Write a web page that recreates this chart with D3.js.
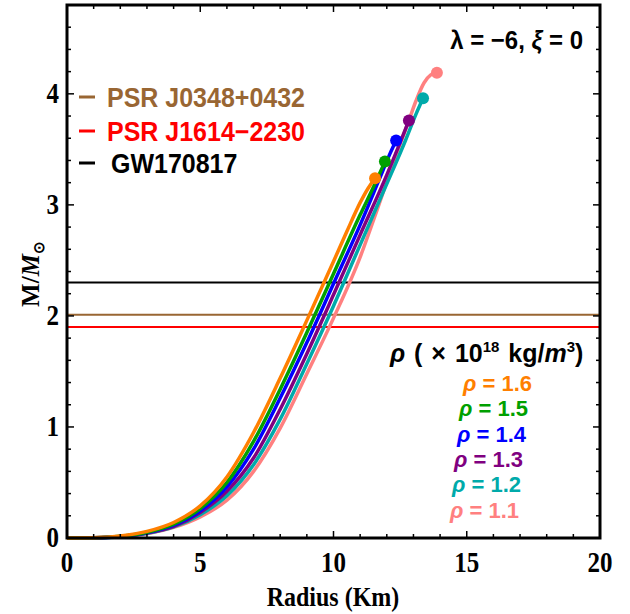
<!DOCTYPE html>
<html>
<head>
<meta charset="utf-8">
<script src="https://cdn.jsdelivr.net/npm/d3@7/dist/d3.min.js"></script>
<style>
  body { margin: 0; background: #fff; }
  text { font-weight: bold; }
</style>
</head>
<body>
<svg id="chart" width="630" height="614"></svg>
<script>
// axis ticks
const xTicks = [0, 5, 10, 15, 20];
const yTicks = [0, 1, 2, 3, 4];

// mass-radius curves, one per central density (x 10^18 kg/m^3)
const densities = [1.6, 1.5, 1.4, 1.3, 1.2, 1.1];
const curveColors = ['#ff7f00', '#00a000', '#0000ff', '#800080', '#00aaaa', '#ff8080'];

const radius16 = [0, 1, 2, 3, 4, 5, 6, 7, 8, 9, 10, 10.5, 11, 11.3, 11.56];
const mass16   = [0, 0.002, 0.018, 0.06, 0.14, 0.29, 0.55, 0.95, 1.44, 1.96, 2.49, 2.76, 3.02, 3.15, 3.24];

const radius15 = [0, 1, 2, 3, 4, 5, 6, 7, 8, 9, 10, 11, 11.5, 11.93];
const mass15   = [0, 0.002, 0.015, 0.052, 0.125, 0.265, 0.5, 0.87, 1.34, 1.85, 2.38, 2.91, 3.16, 3.39];

const radius14 = [0, 1, 2, 3, 4, 5, 6, 7, 8, 9, 10, 11, 11.7, 12.1, 12.35];
const mass14   = [0, 0.002, 0.014, 0.048, 0.115, 0.245, 0.46, 0.8, 1.26, 1.76, 2.29, 2.82, 3.22, 3.45, 3.58];

const radius13 = [0, 1, 2, 3, 4, 5, 6, 7, 8, 9, 10, 11, 12, 12.5, 12.83];
const mass13   = [0, 0.002, 0.013, 0.045, 0.105, 0.23, 0.42, 0.72, 1.16, 1.66, 2.19, 2.73, 3.27, 3.56, 3.76];

const radius12 = [0, 1, 2, 3, 4, 5, 6, 7, 8, 9, 10, 11, 12, 12.7, 13.1, 13.36];
const mass12   = [0, 0.002, 0.012, 0.042, 0.1, 0.21, 0.38, 0.66, 1.07, 1.57, 2.09, 2.64, 3.19, 3.58, 3.82, 3.96];

const radius11 = [0, 1, 2, 3, 4, 5, 6, 7, 8, 9, 10, 11, 11.6, 12.2, 12.8, 13.1, 13.4, 13.65, 13.88];
const mass11   = [0, 0.002, 0.011, 0.038, 0.095, 0.19, 0.34, 0.6, 0.99, 1.48, 1.98, 2.53, 2.93, 3.35, 3.74, 3.94, 4.1, 4.17, 4.19];

const radiusSets = [radius16, radius15, radius14, radius13, radius12, radius11];
const massSets = [mass16, mass15, mass14, mass13, mass12, mass11];

// observational mass constraints
const observations = ['PSR J0348+0432', 'PSR J1614\u22122230', 'GW170817'];
const observationMass = [2.01, 1.9, 2.3];
const observationColors = ['#996633', '#ff0000', '#000000'];

const svg = d3.select('#chart');
const plotLeft = 67, plotRight = 600, plotTop = 5, plotBottom = 538;

const x = d3.scaleLinear().domain([0, 20]).range([plotLeft, plotRight]);
const y = d3.scaleLinear().domain([0, 4.8]).range([plotBottom, plotTop]);

const sans = 'Liberation Sans, Arial, sans-serif';
const serif = 'Liberation Serif, Times New Roman, serif';

// reference lines
svg.append('g')
  .selectAll('line')
  .data(observationMass)
  .enter()
  .append('line')
  .attr('x1', plotLeft)
  .attr('x2', plotRight)
  .attr('y1', d => y(d))
  .attr('y2', d => y(d))
  .attr('stroke', (d, i) => observationColors[i])
  .attr('stroke-width', 2);

// curves, drawn from lowest density so orange ends on top
const line = d3.line()
  .x(d => x(d[0]))
  .y(d => y(d[1]))
  .curve(d3.curveMonotoneX);

const order = d3.range(densities.length).reverse();
const curveGroup = svg.append('g');
order.forEach(i => {
  const pts = radiusSets[i].map((r, k) => [r, massSets[i][k]]);
  curveGroup.append('path')
    .datum(pts)
    .attr('d', line)
    .attr('fill', 'none')
    .attr('stroke', curveColors[i])
    .attr('stroke-width', 3.5)
    .attr('stroke-linejoin', 'round');
});

// end points (maximum mass)
svg.append('g')
  .selectAll('circle')
  .data(order)
  .enter()
  .append('circle')
  .attr('cx', i => x(radiusSets[i][radiusSets[i].length - 1]))
  .attr('cy', i => y(massSets[i][massSets[i].length - 1]))
  .attr('r', 6)
  .attr('fill', i => curveColors[i]);

// frame ticks, inward on all four sides
const tickG = svg.append('g').attr('stroke', '#000').attr('stroke-width', 1.5);
const xMinor = d3.range(0, 21, 1);
const yMinor = d3.range(0, 4.81, 0.2);
xMinor.forEach(v => {
  const len = v % 5 === 0 ? 7 : 4;
  tickG.append('line').attr('x1', x(v)).attr('x2', x(v)).attr('y1', plotBottom).attr('y2', plotBottom - len);
  tickG.append('line').attr('x1', x(v)).attr('x2', x(v)).attr('y1', plotTop).attr('y2', plotTop + len);
});
yMinor.forEach(v => {
  const major = Math.abs(v - Math.round(v)) < 1e-6;
  const len = major ? 7 : 4;
  tickG.append('line').attr('x1', plotLeft).attr('x2', plotLeft + len).attr('y1', y(v)).attr('y2', y(v));
  tickG.append('line').attr('x1', plotRight).attr('x2', plotRight - len).attr('y1', y(v)).attr('y2', y(v));
});

svg.append('rect')
  .attr('x', plotLeft).attr('y', plotTop)
  .attr('width', plotRight - plotLeft).attr('height', plotBottom - plotTop)
  .attr('fill', 'none')
  .attr('stroke', '#000')
  .attr('stroke-width', 3);

// tick labels
svg.append('g')
  .selectAll('text')
  .data(xTicks)
  .enter()
  .append('text')
  .attr('transform', d => `translate(${x(d)},${572}) scale(1,1.15)`)
  .attr('text-anchor', 'middle')
  .attr('font-family', serif)
  .attr('font-size', 25)
  .text(d => d);

svg.append('g')
  .selectAll('text')
  .data(yTicks)
  .enter()
  .append('text')
  .attr('transform', d => `translate(${59},${y(d) + 9}) scale(1,1.15)`)
  .attr('text-anchor', 'end')
  .attr('font-family', serif)
  .attr('font-size', 25)
  .text(d => d);

// axis titles
svg.append('text')
  .attr('transform', 'translate(333,606) scale(1,1.15)')
  .attr('text-anchor', 'middle')
  .attr('font-family', serif)
  .attr('font-size', 24)
  .text('Radius (Km)');

const yTitle = svg.append('text')
  .attr('transform', 'translate(39,274) rotate(-90)')
  .attr('text-anchor', 'middle')
  .attr('font-family', serif)
  .attr('font-size', 25);
yTitle.append('tspan').text('M/');
yTitle.append('tspan').attr('font-style', 'italic').text('M');
yTitle.append('tspan').attr('font-size', 15).attr('dy', 5).text('\u2299');

// parameter label
const param = svg.append('text')
  .attr('transform', 'translate(583,49) scale(1,1.08)')
  .attr('text-anchor', 'end')
  .attr('font-family', sans)
  .attr('font-size', 24);
param.append('tspan').text('\u03bb = \u22126, ');
param.append('tspan').attr('font-style', 'italic').text('\u03be');
param.append('tspan').text(' = 0');

// observation legend
const obsY = [107, 141, 173];
const obsG = svg.append('g');
observations.forEach((name, i) => {
  obsG.append('line')
    .attr('x1', 79).attr('x2', 95)
    .attr('y1', obsY[i] - 10).attr('y2', obsY[i] - 10)
    .attr('stroke', observationColors[i])
    .attr('stroke-width', 3);
  obsG.append('text')
    .attr('transform', `translate(${i === 2 ? 111 : 107},${obsY[i]}) scale(1,1.1)`)
    .attr('font-family', sans)
    .attr('font-size', 25)
    .attr('fill', observationColors[i])
    .text(name);
});

// density legend
const rhoTitle = svg.append('text')
  .attr('transform', 'translate(390,362)')
  .attr('font-family', sans)
  .attr('font-size', 25)
  .attr('word-spacing', 2);
rhoTitle.append('tspan').attr('font-style', 'italic').text('\u03c1');
rhoTitle.append('tspan').text(' ( \u00d7 10');
rhoTitle.append('tspan').attr('font-size', 15).attr('dy', -10).text('18');
rhoTitle.append('tspan').attr('dy', 10).text(' kg/');
rhoTitle.append('tspan').attr('font-style', 'italic').text('m');
rhoTitle.append('tspan').attr('font-size', 15).attr('dy', -10).text('3');
rhoTitle.append('tspan').attr('dy', 10).text(')');

const rhoX = [463, 459, 457, 454, 452, 450];
densities.forEach((rho, i) => {
  const t = svg.append('text')
    .attr('x', rhoX[i])
    .attr('y', 391 + i * 25.3)
    .attr('font-family', sans)
    .attr('font-size', 22)
    .attr('fill', curveColors[i]);
  t.append('tspan').attr('font-style', 'italic').text('\u03c1');
  t.append('tspan').text(' = ' + rho.toFixed(1));
});
</script>
</body>
</html>
